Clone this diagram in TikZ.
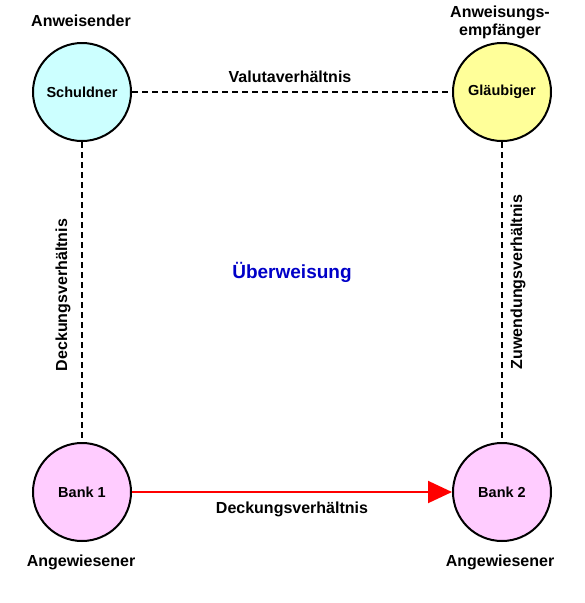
\documentclass[tikz,border=0pt]{standalone}
\usepackage{fontspec}
\setmainfont{Liberation Sans}
\usetikzlibrary{arrows.meta}
\definecolor{cyanfill}{HTML}{CCFFFF}
\definecolor{yellowfill}{HTML}{FFFF99}
\definecolor{pinkfill}{HTML}{FFCCFF}
\definecolor{titleblue}{RGB}{0,0,200}
\tikzset{
  party/.style={circle, draw=black, line width=2pt, minimum size=98pt, inner sep=0pt,
    font=\fontsize{14.5}{17}\selectfont\bfseries},
  lbl/.style={font=\fontsize{16}{18}\selectfont\bfseries, inner sep=0pt, align=center},
  rel/.style={dash pattern=on 6pt off 4pt, line width=2pt},
  pay/.style={red, line width=2pt, -{Triangle[length=24pt,width=22pt]}}
}
\begin{document}
\begin{tikzpicture}[x=1pt,y=-1pt]
\useasboundingbox (0,0) rectangle (585,603);
\node[party, fill=cyanfill] (s) at (82,92) {Schuldner};
\node[party, fill=yellowfill] (g) at (502,92) {Gläubiger};
\node[party, fill=pinkfill] (b1) at (82,492) {Bank 1};
\node[party, fill=pinkfill] (b2) at (502,492) {Bank 2};
\node[lbl] (ls) at (81,21) {Anweisender};
\node[lbl] (lg) at (500,22) {Anweisungs-\\empfänger};
\node[lbl] (lb1) at (81,562) {Angewiesener};
\node[lbl] (lb2) at (500,562) {Angewiesener};
\draw[rel] (s) -- (g);
\draw[rel] (s) -- (b1);
\draw[rel] (g) -- (b2);
\draw[pay] (b1) -- (b2);
\node[lbl] (val) at (290,77) {Valutaverhältnis};
\node[lbl, rotate=90] (dv) at (63,295) {Deckungsverhältnis};
\node[lbl, rotate=90] (zv) at (518,282) {Zuwendungsverhältnis};
\node[lbl] (dv2) at (292,509) {Deckungsverhältnis};
\node[font=\fontsize{19}{22}\selectfont\bfseries, text=titleblue, inner sep=0pt] (t) at (292,272) {Überweisung};
\end{tikzpicture}
\end{document}
